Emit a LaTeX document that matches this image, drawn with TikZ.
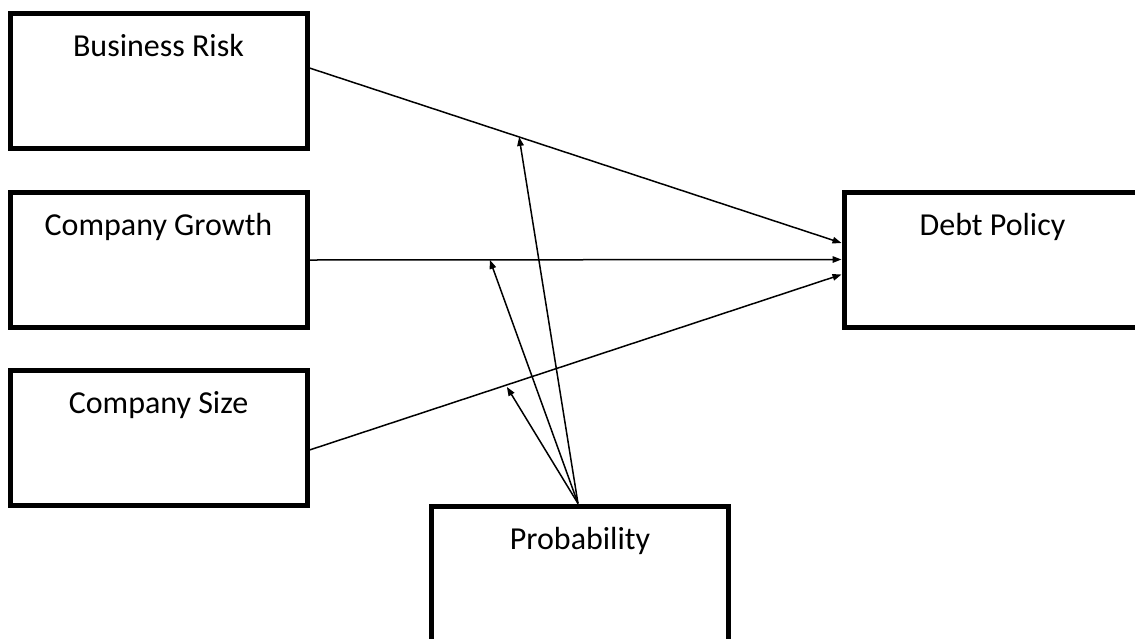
\documentclass[tikz,border=0pt]{standalone}
\usepackage{fontspec}
\setmainfont{Carlito}
\usetikzlibrary{arrows.meta}
\tikzset{
  boxnode/.style={draw, line width=5pt, minimum width=297pt, minimum height=135pt,
    inner xsep=0pt, inner ysep=0pt, text height=43pt, text depth=92pt,
    font=\fontsize{32}{38}\selectfont, anchor=center},
  conn/.style={line width=1.5pt, -{Triangle[length=9pt,width=6.5pt]}}
}
\begin{document}
\begin{tikzpicture}[x=1pt,y=-1pt]
\useasboundingbox (0,0) rectangle (1135,638);
\node[boxnode] (BR) at (158.5,81) {Business Risk};
\node[boxnode] (CG) at (158.5,260) {Company Growth};
\node[boxnode] (CS) at (158.5,437.5) {Company Size};
\node[boxnode] (DP) at (992.5,259.5) {Debt Policy};
\node[boxnode] (PR) at (580,573.5) {Probability};

\draw[conn] ([yshift=13pt]BR.east) -- coordinate[pos=0.394] (m1) ([yshift=16.5pt]DP.west);
\draw[conn] (CG.east) -- coordinate[pos=0.339] (m2) (DP.west);
\draw[conn] ([yshift=-12.5pt]CS.east) -- coordinate[pos=0.371] (m3) ([yshift=-15pt]DP.west);

\coordinate (src) at ([xshift=-2pt]PR.north);
\draw[conn] (src) -- (m1);
\draw[conn] (src) -- (m2);
\draw[conn] (src) -- ([yshift=-2pt]m3);
\end{tikzpicture}
\end{document}
